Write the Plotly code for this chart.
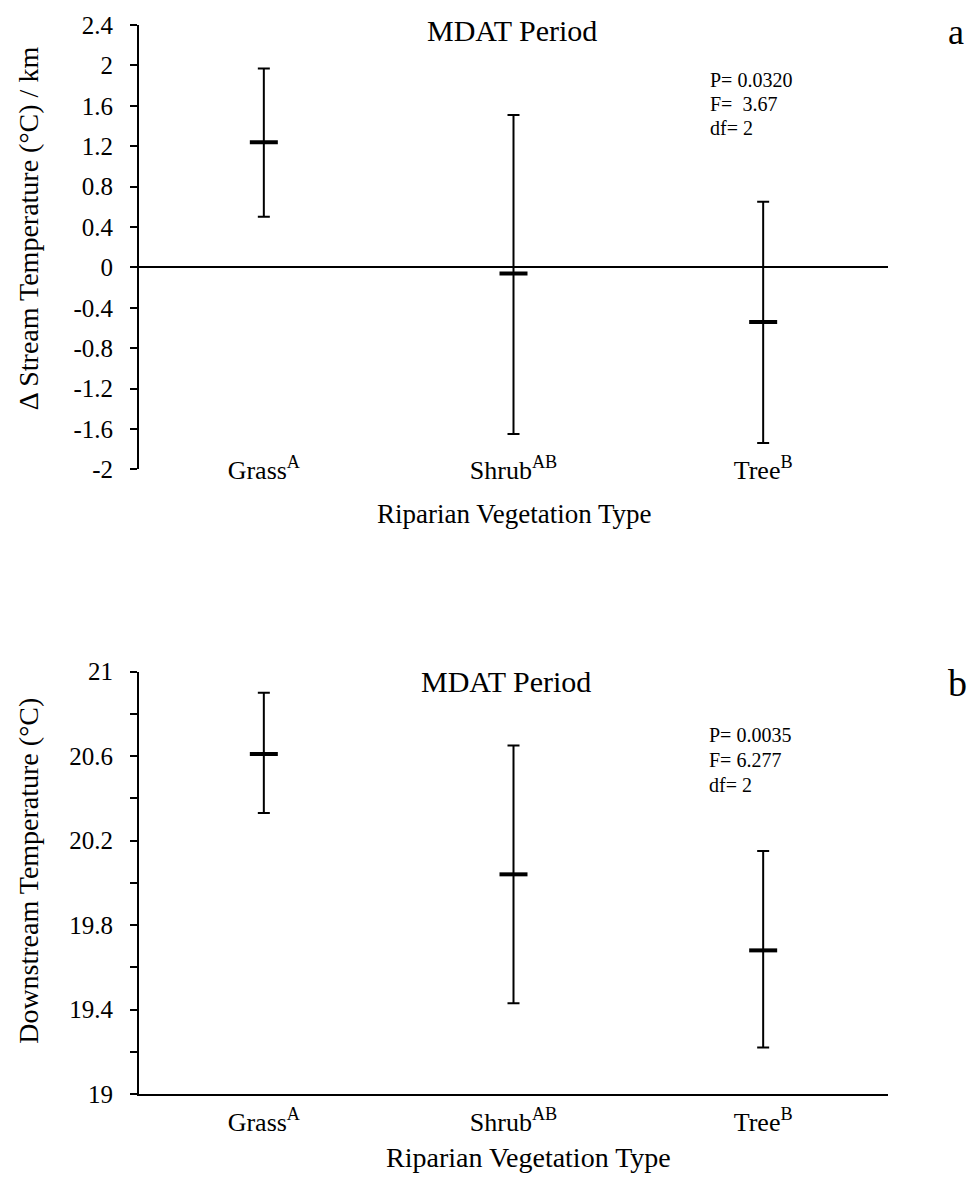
import plotly.graph_objects as go

# ---- data ----
categories = ["Grass", "Shrub", "Tree"]
group_letters = ["A", "AB", "B"]

delta_mean = [1.24, -0.06, -0.54]
delta_upper = [1.97, 1.51, 0.65]
delta_lower = [0.50, -1.65, -1.74]

down_mean = [20.61, 20.04, 19.68]
down_upper = [20.90, 20.65, 20.15]
down_lower = [20.33, 19.43, 19.22]

delta_tickvals = [-2, -1.6, -1.2, -0.8, -0.4, 0, 0.4, 0.8, 1.2, 1.6, 2, 2.4]
delta_ticktext = ["-2", "-1.6", "-1.2", "-0.8", "-0.4", "0", "0.4", "0.8", "1.2", "1.6", "2", "2.4"]
down_tickvals = [19, 19.4, 19.8, 20.2, 20.6, 21]
down_ticktext = ["19", "19.4", "19.8", "20.2", "20.6", "21"]
down_minor_ticks = [19.2, 19.6, 20.0, 20.4, 20.8]

stats_a = ["P= 0.0320", "F=\u00a0 3.67", "df= 2"]
stats_b = ["P= 0.0035", "F= 6.277", "df= 2"]

cat_labels = [f"{c}<sup>{g}</sup>" for c, g in zip(categories, group_letters)]

FONT = "Liberation Serif, Times New Roman, serif"
W, H = 974, 1180
ML, MR, MT, MB = 139, 86, 21, 86
PW = W - ML - MR
PH = H - MT - MB


def px_x(px):
    return (px - ML) / PW


def px_y(py):
    return (H - MB - py) / PH


top_dom = [px_y(467), 1.0]
bot_dom = [0.0, px_y(670)]

fig = go.Figure()


def add_series(mean, upper, lower, xa, ya):
    plus = [u - m for u, m in zip(upper, mean)]
    minus = [m - l for m, l in zip(mean, lower)]
    fig.add_trace(go.Scatter(
        x=categories, y=mean, xaxis=xa, yaxis=ya, mode="markers",
        marker=dict(symbol="line-ew", size=20, color="black",
                    line=dict(color="black", width=4)),
        error_y=dict(type="data", symmetric=False, array=plus, arrayminus=minus,
                     color="black", thickness=2, width=6),
        showlegend=False, hoverinfo="skip",
    ))


add_series(delta_mean, delta_upper, delta_lower, "x", "y")
add_series(down_mean, down_upper, down_lower, "x2", "y2")

tickfont = dict(family=FONT, size=25, color="black")
catfont = dict(family=FONT, size=26, color="black")

fig.update_layout(
    width=W, height=H,
    margin=dict(l=ML, r=MR, t=MT, b=MB),
    paper_bgcolor="white", plot_bgcolor="white",
    font=dict(family=FONT, color="black"),
    xaxis=dict(domain=[0, 1], anchor="y", type="category", range=[-0.5, 2.5],
               tickmode="array", tickvals=categories, ticktext=cat_labels,
               showline=False, ticks="", showgrid=False, zeroline=False,
               tickfont=catfont, ticklabelstandoff=-17),
    yaxis=dict(domain=top_dom, anchor="x", range=[-2, 2.4],
               tickmode="array", tickvals=delta_tickvals, ticktext=delta_ticktext,
               showline=True, linecolor="black", linewidth=2,
               ticks="outside", ticklen=7, tickwidth=2, tickcolor="black",
               showgrid=False, zeroline=True, zerolinecolor="black", zerolinewidth=1.5,
               tickfont=tickfont, ticklabelstandoff=12),
    xaxis2=dict(domain=[0, 1], anchor="y2", type="category", range=[-0.5, 2.5],
                tickmode="array", tickvals=categories, ticktext=cat_labels,
                showline=True, linecolor="black", linewidth=2, ticks="",
                showgrid=False, zeroline=False, tickfont=catfont, ticklabelstandoff=4),
    yaxis2=dict(domain=bot_dom, anchor="x2", range=[19, 21],
                tickmode="array", tickvals=down_tickvals, ticktext=down_ticktext,
                showline=True, linecolor="black", linewidth=2,
                ticks="outside", ticklen=7, tickwidth=2, tickcolor="black",
                minor=dict(tickmode="array", tickvals=down_minor_ticks, ticks="outside",
                           ticklen=7, tickwidth=2, tickcolor="black", showgrid=False),
                showgrid=False, zeroline=False,
                tickfont=tickfont, ticklabelstandoff=12),
)

ann = []


def add_text(text, xp, yp, size, xanchor="center", angle=0):
    ann.append(dict(text=text, x=px_x(xp), y=px_y(yp), xref="paper", yref="paper",
                    xanchor=xanchor, yanchor="middle", showarrow=False, textangle=angle,
                    font=dict(family=FONT, size=size, color="black")))


# panel titles and letters
add_text("MDAT Period", 512, 27, 30)
add_text("MDAT Period", 506, 680, 30)
add_text("a", 956, 28, 36)
add_text("b", 957, 681, 38)

# stats
for t, yp in zip(stats_a, [76, 100, 124]):
    add_text(t, 708, yp, 20, xanchor="left")
for t, yp in zip(stats_b, [734, 759, 784]):
    add_text(t, 707, yp, 20, xanchor="left")

# axis titles
add_text("Riparian Vegetation Type", 514, 512, 27)
add_text("Riparian Vegetation Type", 528, 1158, 28)
add_text("\u0394 Stream Temperature (\u00b0C) / km", 28, 225, 28, angle=-90)
add_text("Downstream Temperature (\u00b0C)", 29, 870, 28, angle=-90)

fig.update_layout(annotations=ann)

fig.write_html("out.html")
